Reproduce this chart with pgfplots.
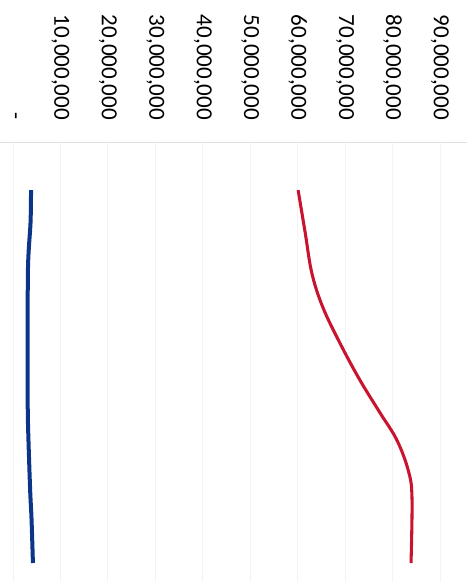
\documentclass[border=0pt]{standalone}
\usepackage{pgfplots}
\pgfplotsset{compat=1.18}
\usepackage{fontspec}
\setmainfont{Carlito}
\definecolor{redline}{HTML}{C8142E}
\definecolor{blueline}{HTML}{0B3588}
\definecolor{gridc}{HTML}{F3F3F3}
\begin{document}
\begin{tikzpicture}
\begin{axis}[
  scale only axis,
  width=350.25pt, height=330pt,
  xmin=-2.74e6, xmax=95.7e6,
  ymin=-12.9, ymax=105.1,
  y dir=reverse,
  axis x line*=top,
  axis y line=none,
  x axis line style={draw=black!12, line width=0.6pt, -},
  xtick={0,10000000,20000000,30000000,40000000,50000000,60000000,70000000,80000000,90000000},
  xticklabels={-,{10,000,000},{20,000,000},{30,000,000},{40,000,000},{50,000,000},{60,000,000},{70,000,000},{80,000,000},{90,000,000}},
  major tick length=0pt,
  scaled x ticks=false,
  xmajorgrids,
  major grid style={draw=gridc, line width=0.6pt},
  every x tick label/.append style={rotate=-90, anchor=east, font=\fontsize{17.3}{19}\selectfont, xshift=-13pt},
  ytick=\empty,
  clip=false,
]
\addplot[redline, line width=2.3pt, smooth, tension=0.6] coordinates {
  (60.1e6,0) (61.6e6,11.5) (63.0e6,22.3) (65.3e6,31.4) (68.9e6,41.0)
  (73.1e6,50.9) (77.4e6,59.8) (80.9e6,67.0) (83.3e6,75.1) (84.1e6,82.3) (83.9e6,100)
};
\addplot[blueline, line width=3pt, smooth, tension=0.5] coordinates {
  (3.8e6,0) (3.7e6,8.6) (3.15e6,21.4) (3.1e6,50) (3.15e6,62)
  (3.6e6,80) (3.9e6,88) (4.2e6,100)
};
\end{axis}
\pgfresetboundingbox
\path[use as bounding box] (current axis.south west) rectangle ([yshift=106.5pt]current axis.north east);
\end{tikzpicture}
\end{document}
